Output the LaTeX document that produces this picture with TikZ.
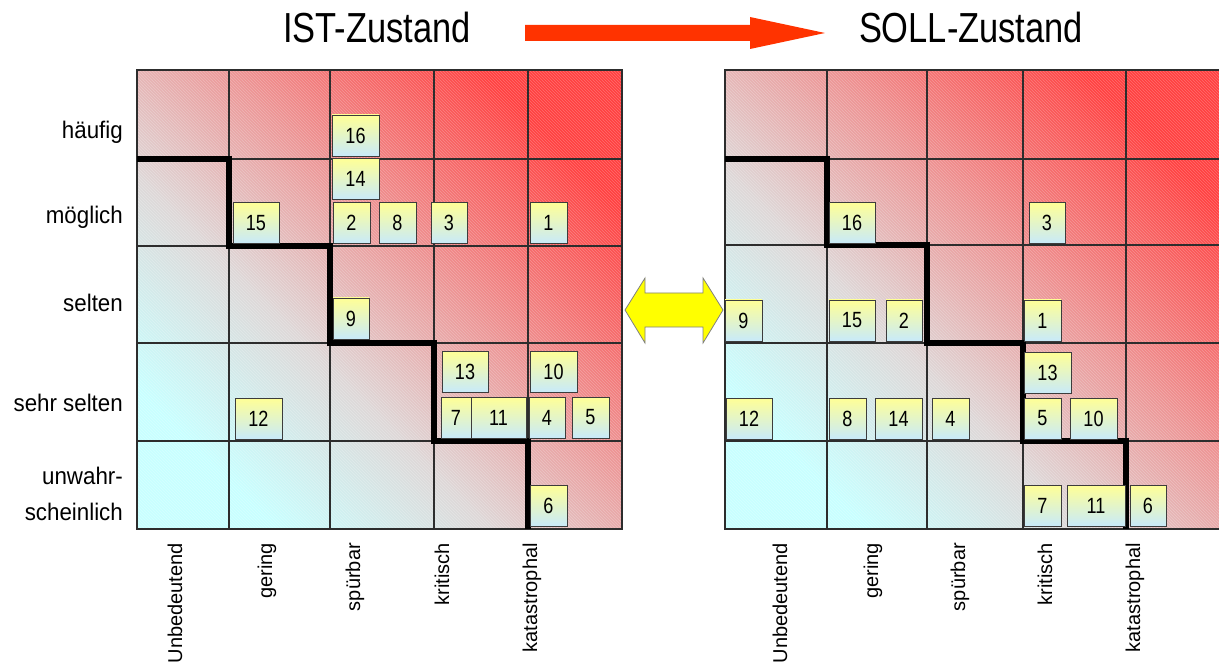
\documentclass[tikz,border=0pt]{standalone}
\usepackage{fontspec}
\setmainfont{Liberation Sans}
\usepackage{graphicx}
\usetikzlibrary{patterns}
\definecolor{cy}{RGB}{200,255,255}
\definecolor{gy}{RGB}{222,216,216}
\definecolor{rd}{RGB}{255,64,64}
\definecolor{gridc}{RGB}{45,45,45}
\definecolor{byel}{RGB}{255,255,150}
\definecolor{bblue}{RGB}{200,234,250}
\definecolor{boxline}{RGB}{60,60,60}
\definecolor{arrred}{RGB}{255,51,0}
\definecolor{arryel}{RGB}{255,255,0}
\pgfdeclarehorizontalshading{risk}{100bp}{color(0bp)=(cy); color(25bp)=(cy); color(41bp)=(gy); color(75bp)=(rd); color(100bp)=(rd)}
\newcommand{\nrw}[2]{\scalebox{#1}[1]{#2}}
\newcommand{\bx}[5]{\node[nbox, minimum width=#4] (#1) at (#2,#3) {\nrw{0.82}{#5}};}
\begin{document}
\begin{tikzpicture}[x=1pt,y=-1pt,
  nbox/.style={draw=boxline, line width=0.9, top color=byel, bottom color=bblue,
    minimum height=41, inner sep=0, font=\fontsize{22}{24}\selectfont},
  gridline/.style={draw=gridc, line width=1.2},
  stair/.style={draw=black, line width=5.5, line join=miter},
  rowlab/.style={anchor=base east, inner sep=0, font=\fontsize{24}{26}\selectfont},
  collab/.style={rotate=90, anchor=east, inner sep=0, font=\fontsize{20}{22}\selectfont},
  title/.style={anchor=base, inner sep=0, font=\fontsize{42}{44}\selectfont},
  hatch/.style={pattern=north west lines, pattern color=white, opacity=0.25}]
\useasboundingbox (0,0) rectangle (1219,663);

% ---------- titles and top arrow
\node[title] (ist) at (377,43) {\nrw{0.82}{IST-Zustand}};
\node[title] (soll) at (971,43) {\nrw{0.82}{SOLL-Zustand}};
\fill[arrred] (525,25) -- (750,25) -- (750,17) -- (825,33) -- (750,49) -- (750,41) -- (525,41) -- cycle;

% ---------- left grid
\shade[shading=risk, shading angle=45] (137,70) rectangle (622,529);
\fill[hatch] (137,70) rectangle (622,529);
\foreach \x in {229,330,434,528} \draw[gridline] (\x,70) -- (\x,529);
\foreach \y in {159,246,343,441} \draw[gridline] (137,\y) -- (622,\y);
\draw[gridline] (137,70) rectangle (622,529);
\draw[stair] (137,159) -- (229,159) -- (229,246) -- (330,246) -- (330,343) -- (434,343) -- (434,441) -- (528,441) -- (528,529);

% ---------- right grid
\shade[shading=risk, shading angle=45] (725,70) rectangle (1224,529);
\fill[hatch] (725,70) rectangle (1224,529);
\foreach \x in {827,927,1023,1126} \draw[gridline] (\x,70) -- (\x,529);
\foreach \y in {159,245,343,441} \draw[gridline] (725,\y) -- (1224,\y);
\draw[gridline] (725,70) rectangle (1224,529);
\draw[stair] (725,159) -- (827,159) -- (827,245) -- (927,245) -- (927,343) -- (1023,343) -- (1023,441) -- (1126,441) -- (1126,529);

% ---------- double arrow
\draw[draw=gray, line width=0.8, fill=arryel] (625,310) -- (645,278) -- (645,293) -- (703,293) -- (703,278) -- (723,310) -- (703,343) -- (703,327) -- (645,327) -- (645,343) -- cycle;

% ---------- row labels
\node[rowlab] (r1) at (123,139) {\nrw{0.93}{häufig}};
\node[rowlab] (r2) at (123,224) {\nrw{0.93}{möglich}};
\node[rowlab] (r3) at (123,312) {\nrw{0.93}{selten}};
\node[rowlab] (r4) at (123,411) {\nrw{0.93}{sehr selten}};
\node[rowlab] (r5a) at (123,484) {\nrw{0.93}{unwahr-}};
\node[rowlab] (r5b) at (123,520) {\nrw{0.93}{scheinlich}};

% ---------- column labels
\node[collab] (lc1) at (175,543) {Unbedeutend};
\node[collab] (lc2) at (267,543) {gering};
\node[collab] (lc3) at (355,543) {spürbar};
\node[collab] (lc4) at (442,543) {kritisch};
\node[collab] (lc5) at (532,543) {katastrophal};
\node[collab] (rc1) at (780,543) {Unbedeutend};
\node[collab] (rc2) at (873,543) {gering};
\node[collab] (rc3) at (960,543) {spürbar};
\node[collab] (rc4) at (1045,543) {kritisch};
\node[collab] (rc5) at (1135,543) {katastrophal};

% ---------- left boxes
\bx{L16}{355.5}{135.5}{47}{16}
\bx{L14}{355.5}{179}{47}{14}
\bx{L15}{256}{223}{46}{15}
\bx{L2}{351.5}{223}{37}{2}
\bx{L8}{397.5}{223}{37}{8}
\bx{L3}{449}{223}{36}{3}
\bx{L1}{548.5}{223}{37}{1}
\bx{L9}{351}{318.5}{36}{9}
\bx{L13}{465}{371.5}{46}{13}
\bx{L10}{553.5}{371.5}{47}{10}
\bx{L12}{258.5}{418.5}{47}{12}
\bx{L7}{456}{417.5}{30}{7}
\bx{L11}{498.5}{417.5}{55}{11}
\bx{L4}{547}{417.5}{36}{4}
\bx{L5}{590.5}{417.5}{37}{5}
\bx{L6}{548.5}{505.5}{37}{6}

% ---------- right boxes
\bx{R16}{852}{223}{46}{16}
\bx{R3}{1047}{223}{36}{3}
\bx{R9}{743.5}{320.5}{37}{9}
\bx{R15}{852}{320.5}{46}{15}
\bx{R2}{904}{320.5}{36}{2}
\bx{R1}{1042.5}{320.5}{37}{1}
\bx{R13}{1047.5}{373}{47}{13}
\bx{R12}{749}{418.5}{46}{12}
\bx{R8}{847.5}{418.5}{37}{8}
\bx{R14}{898.5}{418.5}{47}{14}
\bx{R4}{950.5}{418.5}{37}{4}
\bx{R5}{1042.5}{418.5}{37}{5}
\bx{R10}{1093.5}{418.5}{47}{10}
\bx{R7}{1042.5}{505.5}{37}{7}
\bx{R11}{1096}{505.5}{58}{11}
\bx{R6}{1148}{505.5}{36}{6}
\end{tikzpicture}
\end{document}
